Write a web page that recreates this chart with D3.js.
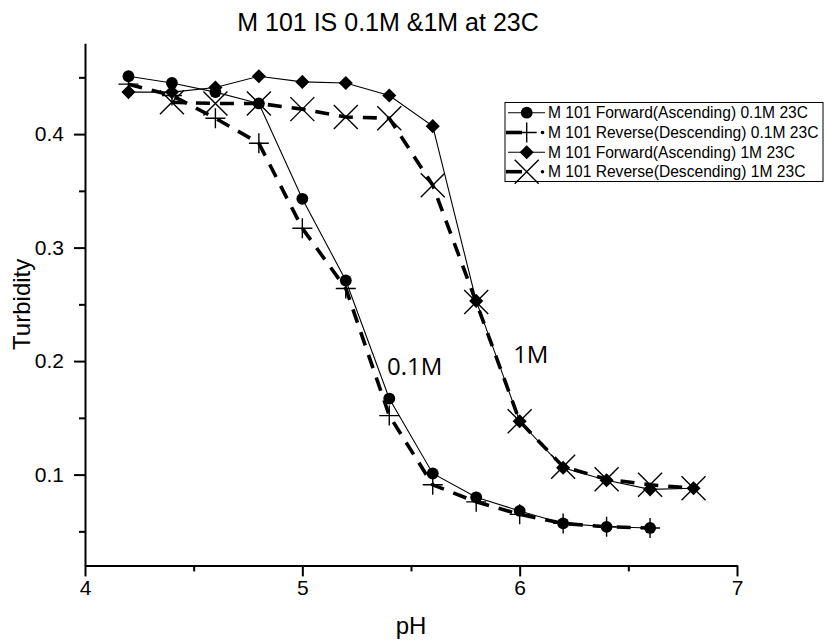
<!DOCTYPE html>
<html>
<head>
<meta charset="utf-8">
<script src="https://cdn.jsdelivr.net/npm/d3@7"></script>
<style>
  html, body { margin: 0; padding: 0; background: #fff; }
  svg { display: block; }
</style>
</head>
<body>
<svg id="chart" width="827" height="642"></svg>
<script>
// ---------- data ----------
const pH01 = [4.2, 4.4, 4.6, 4.8, 5.0, 5.2, 5.4, 5.6, 5.8, 6.0, 6.2, 6.4, 6.6];
const fwd01 = [0.451, 0.445, 0.437, 0.427, 0.343, 0.271, 0.167, 0.101, 0.080, 0.068, 0.057, 0.054, 0.053];
const rev01 = [0.444, 0.434, 0.414, 0.392, 0.317, 0.264, 0.152, 0.091, 0.076, 0.065, 0.057, 0.054, 0.053];
const pHfwd1 = [4.2, 4.4, 4.6, 4.8, 5.0, 5.2, 5.4, 5.6, 5.8, 6.0, 6.2, 6.4, 6.6, 6.8];
const fwd1 = [0.437, 0.437, 0.441, 0.451, 0.446, 0.445, 0.434, 0.407, 0.253, 0.147, 0.106, 0.095, 0.087, 0.088];
const pHrev1 = [4.4, 4.6, 4.8, 5.0, 5.2, 5.4, 5.6, 5.8, 6.0, 6.2, 6.4, 6.6, 6.8];
const rev1 = [0.428, 0.427, 0.427, 0.422, 0.415, 0.414, 0.355, 0.252, 0.147, 0.107, 0.096, 0.091, 0.088];
const seriesNames = [
  "M 101 Forward(Ascending) 0.1M 23C",
  "M 101 Reverse(Descending) 0.1M 23C",
  "M 101 Forward(Ascending) 1M 23C",
  "M 101 Reverse(Descending) 1M 23C"
];
const xTicks = [4, 5, 6, 7];
const xMinor = [4.5, 5.5, 6.5];
const yTicks = [0.1, 0.2, 0.3, 0.4];
const yMinor = [0.05, 0.15, 0.25, 0.35, 0.45];
const titleText = "M 101 IS 0.1M &1M at 23C";
const xLabel = "pH";
const yLabel = "Turbidity";
const annotations = [{ text: "0.1M", x: 5.39, y: 0.1875 }, { text: "1M", x: 5.97, y: 0.198 }];

// ---------- layout ----------
const svg = d3.select("#chart");
const x = d3.scaleLinear().domain([4, 7]).range([85, 737]);
const y = d3.scaleLinear().domain([0.02, 0.48]).range([565.4, 43.3]);
const FONT = "'Liberation Sans', Arial, sans-serif";

// axes
const xAxis = svg.append("g").attr("transform", `translate(0,${y.range()[0]})`);
xAxis.call(d3.axisBottom(x).tickValues(xTicks).tickFormat(d3.format("d")).tickSizeInner(11).tickSizeOuter(0).tickPadding(4));
xAxis.append("g").call(d3.axisBottom(x).tickValues(xMinor).tickFormat("").tickSizeInner(6).tickSizeOuter(0))
  .select(".domain").remove();
const yAxis = svg.append("g").attr("transform", `translate(${x.range()[0]},0)`);
yAxis.call(d3.axisLeft(y).tickValues(yTicks).tickFormat(d3.format(".1f")).tickSizeInner(11).tickSizeOuter(0).tickPadding(10));
yAxis.append("g").call(d3.axisLeft(y).tickValues(yMinor).tickFormat("").tickSizeInner(6).tickSizeOuter(0))
  .select(".domain").remove();
svg.selectAll(".domain").attr("stroke", "#000").attr("stroke-width", 2);
svg.selectAll(".tick line").attr("stroke", "#000").attr("stroke-width", 2);
svg.selectAll(".tick text").attr("font-family", FONT).attr("font-size", 21).attr("fill", "#000");

// titles
svg.append("text").attr("x", 388).attr("y", 31).attr("text-anchor", "middle")
  .attr("font-family", FONT).attr("font-size", 25).text(titleText);
svg.append("text").attr("x", 411).attr("y", 634).attr("text-anchor", "middle")
  .attr("font-family", FONT).attr("font-size", 24).text(xLabel);
svg.append("text").attr("transform", `translate(30,${(y.range()[0] + y.range()[1]) / 2}) rotate(-90)`)
  .attr("text-anchor", "middle").attr("font-family", FONT).attr("font-size", 24).text(yLabel);

// ---------- series ----------
const line = d3.line().x(d => x(d[0])).y(d => y(d[1]));
const zip = (a, b) => a.map((v, i) => [v, b[i]]);
const plot = svg.append("g");

const sFwd01 = zip(pH01, fwd01), sRev01 = zip(pH01, rev01), sFwd1 = zip(pHfwd1, fwd1), sRev1 = zip(pHrev1, rev1);
const solid = g => g.attr("fill", "none").attr("stroke", "#000").attr("stroke-width", 1.1);
const dashed = g => g.attr("fill", "none").attr("stroke", "#000").attr("stroke-width", 3.6).attr("stroke-dasharray", "14,10");

plot.append("path").datum(sFwd01).attr("d", line).call(solid);
plot.append("path").datum(sRev01).attr("d", line).call(dashed);
plot.append("path").datum(sFwd1).attr("d", line).call(solid);
plot.append("path").datum(sRev1).attr("d", line).call(dashed);

const circleSym = d3.symbol().type(d3.symbolCircle).size(110);
const diamondSym = d3.symbol().type(d3.symbolSquare).size(100);
function plus(g, cx, cy, r) {
  g.append("path").attr("d", `M${cx - r},${cy}H${cx + r}M${cx},${cy - r}V${cy + r}`)
    .attr("stroke", "#000").attr("stroke-width", 1.4).attr("fill", "none");
}
function cross(g, cx, cy, r) {
  g.append("path").attr("d", `M${cx - r},${cy - r}L${cx + r},${cy + r}M${cx - r},${cy + r}L${cx + r},${cy - r}`)
    .attr("stroke", "#000").attr("stroke-width", 1.4).attr("fill", "none");
}
plot.selectAll(".c01").data(sFwd01).join("path").attr("d", circleSym)
  .attr("transform", d => `translate(${x(d[0])},${y(d[1])})`).attr("fill", "#000");
sRev01.forEach(d => plus(plot, x(d[0]), y(d[1]), 10));
plot.selectAll(".d1").data(sFwd1).join("path").attr("d", diamondSym)
  .attr("transform", d => `translate(${x(d[0])},${y(d[1])}) rotate(45)`).attr("fill", "#000");
sRev1.forEach(d => cross(plot, x(d[0]), y(d[1]), 12));

// annotations
svg.selectAll(".ann").data(annotations).join("text")
  .attr("x", d => x(d.x)).attr("y", d => y(d.y))
  .attr("font-family", "'Open Sans', sans-serif").attr("font-size", 24).text(d => d.text);

// ---------- legend ----------
const lg = svg.append("g");
lg.append("rect").attr("x", 505).attr("y", 102.5).attr("width", 318).attr("height", 79)
  .attr("fill", "#fff").attr("stroke", "#000").attr("stroke-width", 1);
const rowY = [112.7, 132.5, 152.3, 171.7];
seriesNames.forEach((name, i) => {
  const cy = rowY[i];
  const cx = 526.7;
  if (i % 2 === 0) {
    lg.append("line").attr("x1", 508).attr("x2", 545).attr("y1", cy).attr("y2", cy)
      .attr("stroke", "#000").attr("stroke-width", 1.1);
    if (i === 0) lg.append("path").attr("d", circleSym).attr("transform", `translate(${cx},${cy})`).attr("fill", "#000");
    else lg.append("path").attr("d", diamondSym).attr("transform", `translate(${cx},${cy}) rotate(45)`).attr("fill", "#000");
  } else {
    lg.append("line").attr("x1", 506).attr("x2", 522).attr("y1", cy).attr("y2", cy)
      .attr("stroke", "#000").attr("stroke-width", 3.6);
    lg.append("circle").attr("cx", 542.5).attr("cy", cy).attr("r", 1.8).attr("fill", "#000");
    if (i === 1) plus(lg, cx, cy, 10); else cross(lg, cx, cy, 12);
  }
  lg.append("text").attr("x", 548).attr("y", cy).attr("dy", "0.36em")
    .attr("font-family", FONT).attr("font-size", 15.6).text(name);
});
</script>
</body>
</html>
